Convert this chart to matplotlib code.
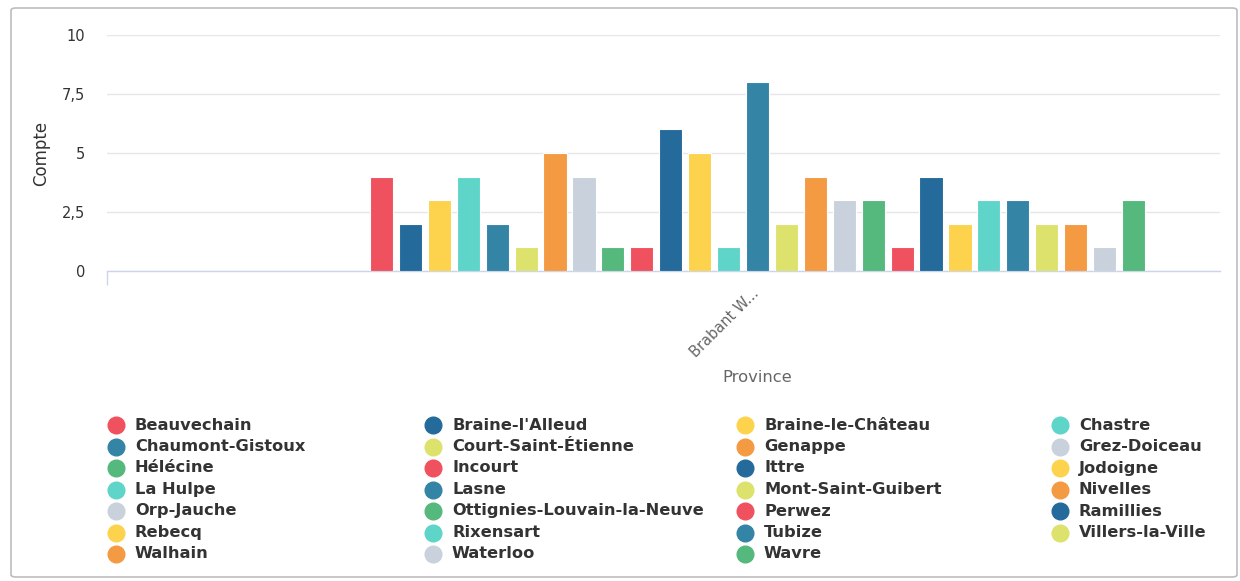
import matplotlib
matplotlib.use("Agg")
import matplotlib.pyplot as plt
from matplotlib.patches import FancyBboxPatch
from matplotlib.lines import Line2D

plt.rcParams["font.family"] = ["DejaVu Sans"]

communes = ["Beauvechain", "Braine-l'Alleud", "Braine-le-Château", "Chastre",
            "Chaumont-Gistoux", "Court-Saint-Étienne", "Genappe", "Grez-Doiceau",
            "Hélécine", "Incourt", "Ittre", "Jodoigne",
            "La Hulpe", "Lasne", "Mont-Saint-Guibert", "Nivelles",
            "Orp-Jauche", "Ottignies-Louvain-la-Neuve", "Perwez", "Ramillies",
            "Rebecq", "Rixensart", "Tubize", "Villers-la-Ville",
            "Walhain", "Waterloo", "Wavre"]
counts = [4, 2, 3, 4, 2, 1, 5, 4, 1, 1, 6, 5, 1, 8, 2, 4, 3, 3, 1, 4, 2, 3, 3, 2, 2, 1, 3]
category = "Brabant W..."
palette = ["#F0515E", "#246A9A", "#FDD34D", "#5FD4C9", "#3484A6",
           "#DDE26C", "#F49A43", "#C9D1DC", "#55B87C"]
yticks = [0, 2.5, 5, 7.5, 10]
ytick_labels = ["0", "2,5", "5", "7,5", "10"]

W, H = 1240, 581
fig = plt.figure(figsize=(W / 100, H / 100), dpi=100)
fig.patch.set_facecolor("white")

# outer frame
frame = FancyBboxPatch((11 / W, 4 / H), 1226 / W, 569 / H,
                       boxstyle="round,pad=0,rounding_size=0.004",
                       transform=fig.transFigure, facecolor="none",
                       edgecolor="#bdbdbd", linewidth=1.2, zorder=-5)
fig.add_artist(frame)

ax = fig.add_axes([107 / W, (H - 271) / H, (1220 - 107) / W, (271 - 35) / H])
ax.set_facecolor("none")

n = len(communes)
xs = list(range(n))
colors = [palette[i % len(palette)] for i in range(n)]
ax.bar(xs, counts, width=0.80, color=colors, edgecolor="white", linewidth=0.8, zorder=3)

ax.set_xlim(-9.49, 28.99)
ax.set_ylim(0, 10)
ax.set_yticks(yticks)
ax.set_yticklabels(ytick_labels, fontsize=10.5, color="#333333")
ax.yaxis.grid(True, color="#e6e6e6", linewidth=1)
ax.set_axisbelow(True)
ax.tick_params(axis="y", length=0, pad=15.5)

for s in ["top", "right", "left"]:
    ax.spines[s].set_visible(False)
ax.spines["bottom"].set_color("#ccd6eb")
ax.spines["bottom"].set_linewidth(1)

center = (n - 1) / 2
ax.set_xticks([center - 0.2])
ax.set_xticklabels([category], rotation=45, ha="right", rotation_mode="anchor",
                   fontsize=10.5, color="#666666")
ax.tick_params(axis="x", length=0, pad=11)
ax.set_xticks([-9.49], minor=True)
ax.tick_params(axis="x", which="minor", length=10, color="#ccd6eb", width=1)

ax.set_ylabel("Compte", fontsize=12, color="#333333", labelpad=9)
fig.text(757 / W, 1 - 378 / H, "Province", ha="center", va="center",
         fontsize=11.8, color="#666666")

# legend (row-major, 4 columns)
col_x = [116, 433, 745, 1060]
row_y = [425, 446.5, 468, 489.5, 511, 532.5, 554]
for i, name in enumerate(communes):
    r, c = divmod(i, 4)
    mx = col_x[c] / W
    my = 1 - row_y[r] / H
    fig.add_artist(Line2D([mx], [my], marker="o", markersize=12, color=colors[i],
                          linestyle="none", transform=fig.transFigure))
    fig.text(mx + 19 / W, my, name, ha="left", va="center", fontsize=11.7,
             fontweight="bold", color="#333333")

fig.savefig("out.png", dpi=100)
